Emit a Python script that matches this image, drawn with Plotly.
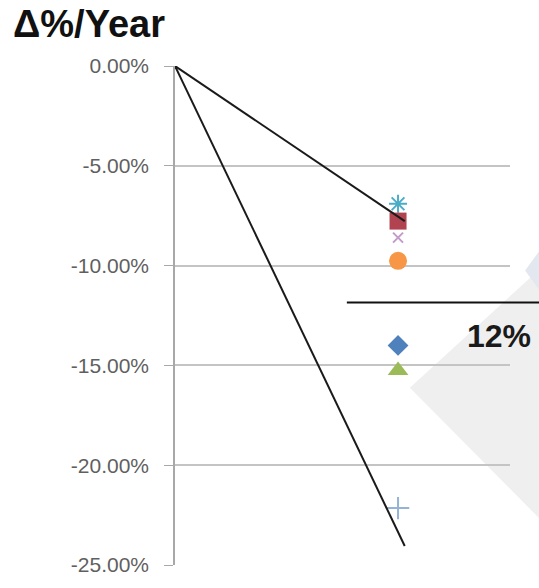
import plotly.graph_objects as go

# ---- data ----
point_x = 1.0
point_values = [-6.9, -7.77, -8.6, -9.76, -14.0, -15.25, -22.15]
point_symbols = ["asterisk-open", "square", "x-thin-open", "circle", "diamond", "triangle-up", "cross-thin-open"]
point_colors = ["#4BACC6", "#B0434F", "#C39BC9", "#F79646", "#4F81BD", "#9BBB59", "#95B3D7"]
point_sizes = [15, 17, 10, 18, 16, 18, 16]

trend_x = [0.0, 1.03]
trend_upper = [0.0, -7.77]
trend_lower = [0.0, -24.05]

threshold_value = -11.85
threshold_label = "12%"

y_ticks = [0, -5, -10, -15, -20, -25]
y_tick_labels = ["0.00%", "-5.00%", "-10.00%", "-15.00%", "-20.00%", "-25.00%"]

fig = go.Figure()

for v, s, c, sz in zip(point_values, point_symbols, point_colors, point_sizes):
    is_open = s.endswith("open")
    fig.add_trace(go.Scatter(
        x=[point_x], y=[v], mode="markers",
        marker=dict(symbol=s, size=sz, color=c,
                    line=dict(color=c, width=2 if is_open else 0)),
        showlegend=False, hoverinfo="skip"))

for ys in (trend_upper, trend_lower):
    fig.add_trace(go.Scatter(x=trend_x, y=ys, mode="lines",
                             line=dict(color="#1a1a1a", width=2),
                             showlegend=False, hoverinfo="skip"))

# watermark-like grey shapes
fig.add_shape(type="path", xref="paper", yref="paper", layer="below",
              path="M 0.701 0.355 L 1.1 0.6 L 1.1 0.085 Z",
              fillcolor="#efefef", line=dict(width=0))
fig.add_shape(type="path", xref="paper", yref="paper", layer="below",
              path="M 1.045 0.59 L 1.11 0.65 L 1.17 0.59 L 1.11 0.53 Z",
              fillcolor="#e3e7ef", line=dict(width=0))

# threshold line
fig.add_shape(type="line", xref="paper", yref="y",
              x0=0.513, x1=1.1, y0=threshold_value, y1=threshold_value,
              line=dict(color="#111111", width=2))
fig.add_annotation(xref="paper", yref="y", x=0.967, y=threshold_value - 1.7,
                   xanchor="center", yanchor="middle",
                   text="<b>" + threshold_label + "</b>", showarrow=False,
                   font=dict(family="Liberation Sans", size=32, color="#1a1a1a"))

fig.add_annotation(xref="paper", yref="paper", x=-0.49, y=1.084, xanchor="left",
                   yanchor="middle", text="<b>Δ%/Year</b>", showarrow=False,
                   font=dict(family="Liberation Sans", size=38, color="#111111"))

fig.update_layout(
    width=539, height=588,
    margin=dict(l=175, r=29, t=66, b=20),
    paper_bgcolor="white", plot_bgcolor="white",
    xaxis=dict(range=[0, 1.502], visible=False, showgrid=False, zeroline=False),
    yaxis=dict(range=[-25, 0], tickvals=y_ticks, ticktext=y_tick_labels,
               showgrid=True, gridcolor="#c4c4c4", gridwidth=1.5,
               zeroline=False, showline=True, linecolor="#a8a8a8", linewidth=1.5,
               ticks="outside", ticklen=9, tickcolor="#a8a8a8",
               ticklabelstandoff=11,
               tickfont=dict(family="Liberation Sans", size=21, color="#5f5f5f")),
)

fig.write_html("out.html")
